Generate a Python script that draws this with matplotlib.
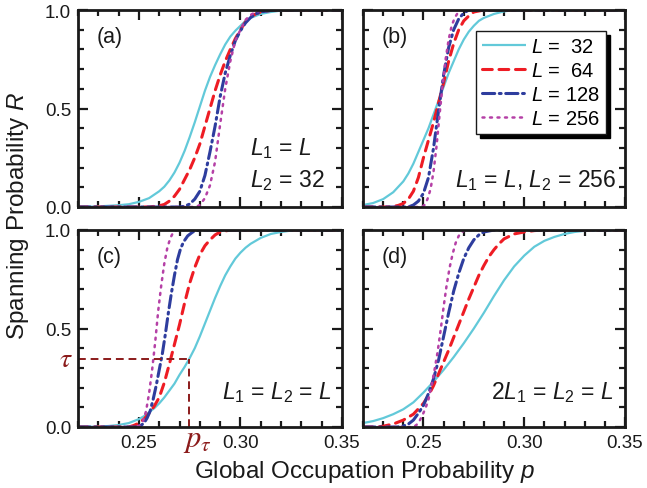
import matplotlib
matplotlib.use("Agg")
import matplotlib.pyplot as plt
from matplotlib.ticker import MultipleLocator, FixedLocator

plt.rcParams['font.family'] = ['Liberation Sans', 'DejaVu Sans']
plt.rcParams['mathtext.fontset'] = 'custom'
plt.rcParams['mathtext.rm'] = 'Liberation Sans'
plt.rcParams['mathtext.it'] = 'Liberation Sans:italic'

# ---------------- data ----------------
sizes = [32, 64, 128, 256]
legend_labels = [r'$L$ =  32', r'$L$ =  64', r'$L$ = 128', r'$L$ = 256']

# panel (a): L1 = L, L2 = 32
pa_32 = [0.220, 0.230, 0.240, 0.245, 0.250, 0.255, 0.260, 0.2625, 0.265, 0.2675, 0.270, 0.2725, 0.275, 0.2775,
         0.280, 0.2825, 0.285, 0.2875, 0.290, 0.2925, 0.295, 0.2975, 0.300, 0.3025, 0.305, 0.310, 0.315, 0.320, 0.330, 0.350]
Ra_32 = [0.0, 0.003, 0.009, 0.014, 0.026, 0.045, 0.080, 0.103, 0.135, 0.175, 0.225, 0.285, 0.355, 0.43,
         0.51, 0.59, 0.66, 0.72, 0.775, 0.825, 0.865, 0.895, 0.92, 0.945, 0.96, 0.98, 0.99, 0.997, 1.0, 1.0]
pa_64 = [0.220, 0.255, 0.260, 0.2625, 0.265, 0.2675, 0.270, 0.2725, 0.275, 0.2775, 0.280, 0.2825, 0.285, 0.2875,
         0.290, 0.2925, 0.295, 0.2975, 0.300, 0.3025, 0.305, 0.3075, 0.310, 0.315, 0.320, 0.350]
Ra_64 = [0.0, 0.0, 0.006, 0.013, 0.03, 0.055, 0.09, 0.14, 0.19, 0.25, 0.32, 0.41, 0.50, 0.59,
         0.67, 0.74, 0.80, 0.855, 0.90, 0.94, 0.965, 0.98, 0.99, 0.998, 1.0, 1.0]
pa_128 = [0.220, 0.270, 0.2725, 0.275, 0.2775, 0.280, 0.2825, 0.285, 0.2875, 0.290, 0.2925, 0.295, 0.2975,
          0.300, 0.3025, 0.305, 0.3075, 0.310, 0.315, 0.320, 0.350]
Ra_128 = [0.0, 0.0, 0.004, 0.015, 0.04, 0.08, 0.16, 0.28, 0.41, 0.56, 0.68, 0.77, 0.845,
          0.895, 0.935, 0.962, 0.98, 0.99, 0.998, 1.0, 1.0]
pa_256 = [0.220, 0.278, 0.280, 0.2825, 0.285, 0.2875, 0.290, 0.2925, 0.295, 0.2975, 0.300, 0.3025, 0.305,
          0.3075, 0.310, 0.315, 0.350]
Ra_256 = [0.0, 0.0, 0.01, 0.045, 0.11, 0.23, 0.42, 0.60, 0.74, 0.845, 0.90, 0.95, 0.975,
          0.99, 0.998, 1.0, 1.0]

# panel (b): L1 = L, L2 = 256
pb_32 = [0.220, 0.225, 0.230, 0.235, 0.240, 0.2425, 0.245, 0.2475, 0.250, 0.2525, 0.255, 0.2575, 0.260, 0.2625,
         0.265, 0.2675, 0.270, 0.2725, 0.275, 0.2775, 0.280, 0.285, 0.290, 0.295, 0.350]
Rb_32 = [0.01, 0.02, 0.04, 0.075, 0.13, 0.17, 0.22, 0.28, 0.34, 0.40, 0.47, 0.54, 0.61, 0.68,
         0.74, 0.80, 0.85, 0.89, 0.92, 0.945, 0.96, 0.98, 0.993, 1.0, 1.0]
pb_64 = [0.220, 0.2325, 0.235, 0.2375, 0.240, 0.2425, 0.245, 0.2475, 0.250, 0.2525, 0.255, 0.2575, 0.260,
         0.2625, 0.265, 0.2675, 0.270, 0.2725, 0.275, 0.280, 0.350]
Rb_64 = [0.0, 0.0, 0.003, 0.008, 0.018, 0.04, 0.08, 0.15, 0.25, 0.34, 0.43, 0.53, 0.63,
         0.74, 0.83, 0.90, 0.945, 0.97, 0.99, 1.0, 1.0]
pb_128 = [0.220, 0.2425, 0.245, 0.2475, 0.250, 0.2525, 0.255, 0.2575, 0.260, 0.2625, 0.265, 0.2675, 0.270,
          0.2725, 0.350]
Rb_128 = [0.0, 0.0, 0.01, 0.03, 0.07, 0.15, 0.30, 0.49, 0.67, 0.81, 0.90, 0.955, 0.985,
          1.0, 1.0]
pb_256 = [0.220, 0.249, 0.2505, 0.252, 0.2535, 0.255, 0.2565, 0.258, 0.2595, 0.261, 0.2625, 0.264, 0.2655,
          0.267, 0.2685, 0.270, 0.350]
Rb_256 = [0.0, 0.0, 0.01, 0.04, 0.09, 0.18, 0.31, 0.47, 0.62, 0.75, 0.85, 0.92, 0.96,
          0.985, 0.997, 1.0, 1.0]

# panel (c): L1 = L2 = L
pc_32 = [0.220, 0.230, 0.235, 0.240, 0.245, 0.250, 0.2525, 0.255, 0.2575, 0.260, 0.2625, 0.265, 0.2675, 0.270,
         0.2725, 0.275, 0.2775, 0.280, 0.2825, 0.285, 0.2875, 0.290, 0.2925, 0.295, 0.2975, 0.300, 0.3025,
         0.305, 0.310, 0.315, 0.320, 0.325, 0.330, 0.350]
Rc_32 = [0.0, 0.002, 0.005, 0.01, 0.02, 0.04, 0.055, 0.075, 0.095, 0.12, 0.15, 0.185, 0.22, 0.265,
         0.305, 0.35, 0.40, 0.46, 0.525, 0.59, 0.655, 0.715, 0.77, 0.815, 0.855, 0.885, 0.91,
         0.93, 0.96, 0.98, 0.99, 0.997, 1.0, 1.0]
pc_64 = [0.220, 0.245, 0.2475, 0.250, 0.2525, 0.255, 0.2575, 0.260, 0.2625, 0.265, 0.2675, 0.270, 0.2725,
         0.275, 0.2775, 0.280, 0.2825, 0.285, 0.2875, 0.290, 0.295, 0.350]
Rc_64 = [0.0, 0.0, 0.008, 0.02, 0.04, 0.07, 0.105, 0.15, 0.225, 0.32, 0.42, 0.52, 0.63,
         0.73, 0.81, 0.875, 0.92, 0.95, 0.975, 0.99, 1.0, 1.0]
pc_128 = [0.220, 0.249, 0.251, 0.2525, 0.254, 0.2555, 0.257, 0.2585, 0.260, 0.2615, 0.263, 0.2645, 0.266,
          0.2675, 0.269, 0.2705, 0.272, 0.274, 0.2765, 0.280, 0.350]
Rc_128 = [0.0, 0.0, 0.008, 0.02, 0.045, 0.08, 0.14, 0.21, 0.29, 0.37, 0.47, 0.58, 0.68,
          0.77, 0.85, 0.905, 0.94, 0.97, 0.99, 1.0, 1.0]
pc_256 = [0.220, 0.249, 0.2505, 0.252, 0.2535, 0.255, 0.2565, 0.258, 0.2595, 0.261, 0.2625, 0.264, 0.2655,
          0.267, 0.2685, 0.350]
Rc_256 = [0.0, 0.0, 0.01, 0.03, 0.08, 0.17, 0.29, 0.43, 0.59, 0.72, 0.83, 0.91, 0.96,
          0.99, 1.0, 1.0]

# panel (d): 2 L1 = L2 = L
pd_32 = [0.220, 0.225, 0.230, 0.235, 0.240, 0.245, 0.250, 0.255, 0.260, 0.265, 0.270, 0.275, 0.280, 0.285,
         0.290, 0.295, 0.300, 0.305, 0.310, 0.315, 0.320, 0.325, 0.330, 0.340, 0.350]
Rd_32 = [0.02, 0.03, 0.045, 0.065, 0.09, 0.125, 0.175, 0.23, 0.29, 0.355, 0.425, 0.50, 0.58, 0.665,
         0.745, 0.815, 0.87, 0.915, 0.945, 0.965, 0.98, 0.99, 0.996, 1.0, 1.0]
pd_64 = [0.220, 0.227, 0.230, 0.235, 0.240, 0.245, 0.250, 0.2525, 0.255, 0.2575, 0.260, 0.2625, 0.265,
         0.2675, 0.270, 0.2725, 0.275, 0.2775, 0.280, 0.2825, 0.285, 0.2875, 0.290, 0.295, 0.300, 0.305,
         0.310, 0.350]
Rd_64 = [0.0, 0.0, 0.004, 0.015, 0.035, 0.065, 0.12, 0.16, 0.21, 0.27, 0.33, 0.39, 0.455,
         0.52, 0.585, 0.65, 0.71, 0.77, 0.82, 0.865, 0.90, 0.93, 0.955, 0.98, 0.99, 0.997,
         1.0, 1.0]
pd_128 = [0.220, 0.237, 0.240, 0.2425, 0.245, 0.2475, 0.250, 0.2525, 0.255, 0.2575, 0.260, 0.2625, 0.265,
          0.2675, 0.270, 0.2725, 0.275, 0.2775, 0.280, 0.285, 0.350]
Rd_128 = [0.0, 0.0, 0.005, 0.015, 0.035, 0.07, 0.11, 0.17, 0.245, 0.34, 0.46, 0.58, 0.69,
          0.78, 0.855, 0.91, 0.95, 0.975, 0.99, 1.0, 1.0]
pd_256 = [0.220, 0.245, 0.2465, 0.248, 0.2495, 0.251, 0.2525, 0.254, 0.2555, 0.257, 0.2585, 0.260, 0.2615,
          0.263, 0.2645, 0.266, 0.2675, 0.269, 0.271, 0.350]
Rd_256 = [0.0, 0.0, 0.01, 0.03, 0.06, 0.095, 0.14, 0.21, 0.29, 0.38, 0.49, 0.61, 0.72,
          0.81, 0.88, 0.935, 0.97, 0.99, 1.0, 1.0]

panel_letters = ['(a)', '(b)', '(c)', '(d)']
x_ticks = [0.25, 0.30, 0.35]
x_tick_labels = ['0.25', '0.30', '0.35']
y_ticks = [0.0, 0.5, 1.0]
y_tick_labels = ['0.0', '0.5', '1.0']
TAU = 0.345
P_TAU = 0.2748

panels = [
    [(pa_32, Ra_32), (pa_64, Ra_64), (pa_128, Ra_128), (pa_256, Ra_256)],
    [(pb_32, Rb_32), (pb_64, Rb_64), (pb_128, Rb_128), (pb_256, Rb_256)],
    [(pc_32, Rc_32), (pc_64, Rc_64), (pc_128, Rc_128), (pc_256, Rc_256)],
    [(pd_32, Rd_32), (pd_64, Rd_64), (pd_128, Rd_128), (pd_256, Rd_256)],
]

# ---------------- styles ----------------
styles = [
    dict(color='#62C9D9', lw=1.6, ls='-'),
    dict(color='#EE1C24', lw=2.2, ls=(0, (3.2, 2.2))),
    dict(color='#2E3D9E', lw=2.2, ls=(0, (4.0, 1.5, 0.6, 1.5))),
    dict(color='#B540A6', lw=1.8, ls=(0, (0.8, 2.2))),
]

W, H = 647, 489
fig = plt.figure(figsize=(W / 100, H / 100), dpi=100)

def rect(l, t, r, b):
    return [l / W, 1 - b / H, (r - l) / W, (b - t) / H]

boxes = [rect(78, 11, 342, 208), rect(363, 11, 625, 208),
         rect(78, 231, 342, 428), rect(363, 231, 625, 428)]
axes = [fig.add_axes(b) for b in boxes]
ink = '#1a1a1a'

for i, ax in enumerate(axes):
    for (p, R), st in zip(panels[i], styles):
        ax.plot(p, R, solid_capstyle='butt', dash_capstyle='round', solid_joinstyle='round', **st)
    ax.set_xlim(0.22, 0.35)
    ax.set_ylim(0.0, 1.0)
    ax.xaxis.set_major_locator(FixedLocator(x_ticks))
    ax.xaxis.set_minor_locator(MultipleLocator(0.01))
    ax.yaxis.set_major_locator(FixedLocator(y_ticks))
    ax.yaxis.set_minor_locator(MultipleLocator(0.1))
    ax.tick_params(which='both', direction='in', top=True, right=True,
                   width=1.6, color=ink, labelsize=13.5, pad=5, labelcolor=ink)
    ax.tick_params(which='major', length=7)
    ax.tick_params(which='minor', length=4.5)
    for s in ax.spines.values():
        s.set_linewidth(2.0)
        s.set_color(ink)
    if i in (0, 1):
        ax.tick_params(labelbottom=False)
    else:
        ax.set_xticklabels(x_tick_labels)
    if i in (1, 3):
        ax.tick_params(labelleft=False)
    else:
        ax.set_yticklabels(y_tick_labels)
    ax.text(0.07, 0.92, panel_letters[i], transform=ax.transAxes,
            fontsize=15.5, va='top', ha='left', color=ink)

# annotations
fs_ann = 16.5
axes[0].text(0.65, 0.30, r'$L_1$ = $L$', transform=axes[0].transAxes,
             fontsize=fs_ann, ha='left', va='center', color=ink)
axes[0].text(0.65, 0.14, r'$L_2$ = 32', transform=axes[0].transAxes,
             fontsize=fs_ann, ha='left', va='center', color=ink)
axes[1].text(0.965, 0.14, r'$L_1$ = $L$, $L_2$ = 256', transform=axes[1].transAxes,
             fontsize=fs_ann, ha='right', va='center', color=ink)
axes[2].text(0.962, 0.18, r'$L_1$ = $L_2$ = $L$', transform=axes[2].transAxes,
             fontsize=fs_ann, ha='right', va='center', color=ink)
axes[3].text(0.955, 0.18, r'2$L_1$ = $L_2$ = $L$', transform=axes[3].transAxes,
             fontsize=fs_ann, ha='right', va='center', color=ink)

# tau construction in panel (c)
dred = '#8B1A1A'
axc = axes[2]
axc.plot([0.22, P_TAU], [TAU, TAU], color=dred, lw=1.4, ls=(0, (4, 2.5)), clip_on=False)
axc.plot([P_TAU, P_TAU], [0.0, TAU], color=dred, lw=1.4, ls=(0, (4, 2.5)), clip_on=False)
axc.text(-0.045, TAU, r'$\tau$', transform=axc.get_yaxis_transform(),
         fontsize=20, color=dred, ha='center', va='center', math_fontfamily='stix')
axc.text(P_TAU - 0.0032, -0.06, r'$p_\tau$', transform=axc.get_xaxis_transform(),
         fontsize=22, color=dred, ha='left', va='center', math_fontfamily='stix')

# legend
leg = axes[1].legend(legend_labels, loc='upper right', bbox_to_anchor=(0.927, 0.893),
                     fontsize=14.5, frameon=True, fancybox=False, handlelength=2.2,
                     handletextpad=0.25, borderpad=0.3, labelspacing=0.25,
                     shadow={'color': 'black', 'alpha': 1.0, 'ox': 3, 'oy': -3},
                     borderaxespad=0.0)
leg.get_frame().set_edgecolor(ink)
leg.get_frame().set_linewidth(1.0)

fig.text(0.028, 1 - 216 / H, r'Spanning Probability $R$', rotation=90, ha='center', va='center',
         fontsize=17.5, color=ink)
fig.text(364 / W, 1 - 472 / H, r'Global Occupation Probability $p$',
         ha='center', va='center', fontsize=17.5, color=ink)

fig.savefig('out.png', dpi=100)
